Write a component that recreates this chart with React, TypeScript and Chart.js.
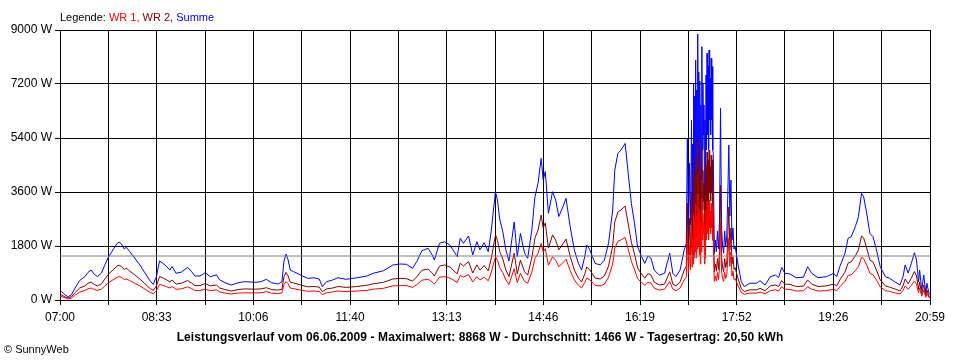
import React, { useEffect, useRef } from "react";
import { Chart, registerables } from "chart.js";

Chart.register(...registerables);

// minutes after 07:00
const minutes = [
  0, 3, 5, 8, 11, 14, 19, 24, 27, 30, 33, 36, 40, 43, 47, 52, 55, 57, 59, 62, 64, 67, 72, 77, 82, 87, 90, 93, 96, 99,
  103, 106, 108, 112, 117, 123, 127, 130, 135, 140, 145, 151, 154, 159, 165, 172, 178, 188, 194, 199, 204, 210, 214, 216, 218, 220, 222, 225, 232, 239,
  245, 250, 253, 257, 263, 268, 276, 286, 296, 302, 312, 321, 328, 334, 340, 344, 349, 355, 359, 361, 363, 366, 371, 376, 379, 383, 386, 389, 394, 398,
  402, 405, 409, 413, 416, 418, 420, 422, 424, 427, 430, 433, 438, 441, 444, 448, 451, 455, 458, 461, 464, 466, 468, 471, 475, 478, 481, 485, 488, 492,
  496, 500, 503, 506, 508, 511, 516, 521, 525, 529, 533, 535, 538, 541, 545, 548, 551, 554, 557, 561, 564, 567, 570, 573, 578, 583, 588, 591, 594, 598,
  602, 604, 605, 606, 607, 608,
  609, 609.5, 610, 610.5, 611, 611.5, 612, 612.5, 613, 613.5, 614, 614.5, 615, 615.5, 616, 616.5, 617, 617.5, 618, 618.5,
  619, 619.5, 620, 620.5, 621, 621.5, 622, 622.5, 623, 623.5, 624, 624.5, 625, 625.5, 626, 626.5, 627, 627.5, 628, 628.5,
  629, 629.5, 630, 631, 632,
  633, 634, 635, 636, 637, 638, 639, 640, 641, 642, 643, 644, 645, 646, 647, 648, 649, 650, 651, 654, 657, 660, 665, 672, 675, 680, 685, 690, 693, 696,
  699, 704, 710, 717, 721, 725, 731, 739, 746, 749, 752, 757, 760, 763, 767, 770, 773, 775, 778, 781, 784, 787, 791, 796, 800, 805, 810, 813, 815, 818,
  821, 824, 826, 828, 829, 831, 833, 835, 836, 838, 839,
];

const summe = [
  330, 230, 167, 110, 170, 370, 650, 780, 920, 1000, 860, 780, 900, 1150, 1450, 1720, 1880, 1930, 1880, 1700, 1760, 1620, 1400, 1170, 900, 630, 520, 780, 1300, 1230,
  1110, 1000, 1120, 890, 930, 1090, 940, 800, 800, 910, 777, 840, 670, 580, 500, 577, 610, 590, 610, 690, 577, 530, 600, 1300, 1530, 1340, 1000, 950, 830, 720,
  740, 700, 443, 610, 667, 743, 690, 740, 800, 890, 977, 1167, 1200, 1190, 1057, 1277, 1643, 1723, 1500, 1333, 1557, 1890, 1943, 1833, 1667, 1443, 2057, 1890, 2133, 1500,
  1943, 1670, 1910, 1610, 2333, 3000, 3610, 3300, 2700, 2280, 1670, 1300, 2600, 1450, 2220, 1560, 1390, 2330, 3440, 3890, 4720, 4000, 4280, 2890, 3610, 3330, 2780, 3110, 3390, 2440,
  1670, 1220, 1000, 1440, 1830, 1670, 1220, 1170, 1330, 1890, 3000, 4330, 4890, 5000, 5220, 4220, 3220, 2560, 1780, 1440, 1220, 1470, 1390, 1000, 830, 890, 1560, 890, 780, 1000,
  1670, 1890, 5390, 2200, 4557, 2500,
  6000, 2800, 5200, 3000, 7200, 3500, 6800, 4000, 8000, 3500, 7000, 4200, 8868, 4500, 7600, 3800, 7300, 3000, 6500, 4000,
  8443, 5000, 7200, 5500, 6500, 3000, 6000, 3500, 7500, 5000, 8223, 5500, 7800, 5000, 8333, 6000, 7400, 5500, 8057, 6000,
  7777, 5000, 4890, 1557, 2000,
  1600, 2300, 1700, 2667, 6390, 2400, 1800, 1560, 2300, 1800, 2100, 3500, 5167, 2800, 4000, 2000, 2400, 1700, 1800, 1167, 610, 443, 557, 560, 643, 500, 777, 833, 743, 1090,
  890, 867, 743, 760, 1110, 890, 743, 777, 890, 777, 1110, 1557, 2057, 2110, 2443, 2777, 3557, 3443, 2890, 2223, 2110, 1723, 1110, 777, 723, 610, 500, 777, 1167, 900,
  1223, 1577, 1333, 600, 1000, 333, 833, 223, 557, 223, 200,
];

const wr2 = [
  200, 140, 100, 70, 110, 230, 400, 470, 560, 600, 520, 470, 540, 690, 870, 1030, 1130, 1160, 1120, 1020, 1060, 970, 840, 700, 540, 380, 320, 470, 780, 740,
  670, 600, 670, 530, 560, 650, 560, 480, 480, 550, 470, 500, 400, 350, 300, 350, 370, 360, 370, 410, 350, 330, 360, 780, 920, 800, 600, 570, 500, 440,
  450, 430, 280, 370, 400, 450, 420, 450, 490, 540, 590, 700, 720, 710, 630, 770, 990, 1030, 900, 800, 930, 1130, 1170, 1100, 1000, 870, 1230, 1130, 1280, 900,
  1170, 1000, 1150, 970, 1400, 1800, 2170, 1980, 1620, 1370, 1000, 780, 1560, 870, 1330, 940, 830, 1400, 2060, 2330, 2830, 2400, 2570, 1730, 2170, 2000, 1670, 1870, 2030, 1460,
  1000, 730, 600, 860, 1100, 1000, 730, 700, 800, 1130, 1800, 2600, 2930, 3000, 3130, 2530, 1930, 1540, 1070, 860, 730, 880, 830, 600, 500, 530, 940, 530, 470, 600,
  1000, 1130, 3230, 1320, 2730, 1500,
  3600, 1700, 3100, 1800, 4320, 2100, 4080, 2400, 4800, 2100, 4200, 2500, 5340, 2700, 4560, 2300, 4380, 1800, 3900, 2400,
  5070, 3000, 4320, 3300, 3900, 1800, 3600, 2100, 4500, 3000, 4930, 3300, 4680, 3000, 5000, 3600, 4440, 3300, 4830, 3600,
  4670, 3000, 2930, 930, 1200,
  960, 1380, 1020, 1600, 3830, 1440, 1080, 940, 1380, 1080, 1260, 2100, 3100, 1680, 2400, 1200, 1440, 1020, 1080, 700, 380, 280, 340, 340, 390, 310, 470, 500, 450, 650,
  530, 520, 450, 460, 670, 530, 450, 470, 530, 470, 670, 930, 1230, 1270, 1470, 1670, 2130, 2070, 1730, 1330, 1270, 1030, 670, 470, 430, 370, 300, 470, 700, 540,
  730, 950, 800, 360, 600, 200, 500, 130, 330, 130, 120,
];

const wr1 = [
  130, 95, 70, 40, 60, 150, 260, 320, 370, 400, 350, 320, 360, 460, 580, 690, 750, 780, 760, 680, 700, 650, 560, 470, 360, 250, 210, 310, 520, 490,
  440, 400, 450, 360, 370, 440, 380, 320, 320, 360, 310, 340, 270, 230, 200, 230, 240, 235, 240, 280, 230, 210, 240, 520, 610, 540, 400, 380, 330, 290,
  300, 280, 180, 240, 270, 300, 280, 300, 320, 360, 390, 470, 480, 480, 420, 510, 660, 690, 600, 530, 620, 760, 780, 730, 670, 580, 820, 760, 850, 600,
  780, 670, 760, 640, 930, 1200, 1440, 1320, 1080, 910, 670, 520, 1040, 580, 890, 620, 560, 930, 1380, 1560, 1890, 1600, 1710, 1160, 1440, 1330, 1110, 1240, 1360, 980,
  670, 490, 400, 580, 730, 670, 490, 470, 530, 760, 1200, 1730, 1960, 2000, 2090, 1690, 1290, 1020, 710, 580, 490, 590, 560, 400, 330, 360, 620, 360, 310, 400,
  670, 760, 2160, 880, 1820, 1000,
  2400, 1100, 2100, 1200, 2880, 1400, 2720, 1600, 3200, 1400, 2800, 1700, 3528, 1800, 3040, 1500, 2920, 1200, 2600, 1600,
  3370, 2000, 2880, 2200, 2600, 1200, 2400, 1400, 3000, 2000, 3290, 2200, 3120, 2000, 3330, 2400, 2960, 2200, 3220, 2400,
  3110, 2000, 1960, 620, 800,
  640, 920, 680, 1070, 2560, 960, 720, 620, 920, 720, 840, 1400, 2070, 1120, 1600, 800, 960, 680, 720, 470, 250, 190, 230, 230, 260, 210, 310, 340, 300, 440,
  360, 350, 300, 310, 440, 360, 300, 310, 360, 310, 440, 620, 820, 840, 980, 1110, 1420, 1380, 1160, 890, 840, 690, 440, 310, 290, 240, 200, 310, 470, 360,
  490, 630, 530, 240, 400, 130, 330, 90, 220, 90, 80,
];

const average = 1466;
const totalMinutes = 839;
const tickLabels = ["07:00", "08:33", "10:06", "11:40", "13:13", "14:46", "16:19", "17:52", "19:26", "20:59"];
const yMax = 9000;
const yStep = 1800;

const FONT = "'Liberation Sans', Arial, sans-serif";

export default function App() {
  const ref = useRef<HTMLCanvasElement | null>(null);

  useEffect(() => {
    if (!ref.current) return;
    const pts = (arr: number[]) => minutes.map((m, i) => ({ x: m, y: arr[i] }));
    const chart = new Chart(ref.current, {
      type: "line",
      data: {
        datasets: [
          {
            label: "Durchschnitt",
            data: [
              { x: 0, y: average },
              { x: totalMinutes, y: average },
            ],
            borderColor: "#808080",
            borderWidth: 1,
            pointRadius: 0,
            order: 0,
          },
          {
            label: "WR 1",
            data: pts(wr1),
            borderColor: "#ff0000",
            borderWidth: 1,
            pointRadius: 0,
            order: 1,
          },
          {
            label: "WR 2",
            data: pts(wr2),
            borderColor: "#800000",
            borderWidth: 1,
            pointRadius: 0,
            order: 2,
          },
          {
            label: "Summe",
            data: pts(summe),
            borderColor: "#0000ff",
            borderWidth: 1,
            pointRadius: 0,
            order: 3,
          },
        ],
      },
      options: {
        animation: false,
        responsive: false,
        maintainAspectRatio: false,
        layout: { padding: { left: 0, top: 30, right: 30, bottom: 0 } },
        plugins: { legend: { display: false }, tooltip: { enabled: false }, title: { display: false } },
        elements: { line: { tension: 0 } },
        scales: {
          x: {
            type: "linear",
            min: 0,
            max: totalMinutes,
            afterFit: (s: any) => {
              s.height = 60;
            },
            afterBuildTicks: (s: any) => {
              const n = (tickLabels.length - 1) * 2;
              s.ticks = Array.from({ length: n + 1 }, (_, i) => ({ value: (i * totalMinutes) / n }));
            },
            ticks: {
              autoSkip: false,
              maxRotation: 0,
              color: "#000",
              padding: 5,
              font: { family: FONT, size: 12 },
              callback: (_v: any, i: number) => (i % 2 === 0 ? tickLabels[i / 2] : ""),
            },
            grid: { color: "#000", lineWidth: 1, tickLength: 5, drawTicks: true },
            border: { display: true, color: "#000" },
          },
          y: {
            min: 0,
            max: yMax,
            afterFit: (s: any) => {
              s.width = 60;
            },
            ticks: {
              stepSize: yStep,
              color: "#000",
              padding: 3,
              font: { family: FONT, size: 12 },
              callback: (v: any) => `${v} W`,
            },
            grid: { color: "#000", lineWidth: 1, tickLength: 5, drawTicks: true },
            border: { display: true, color: "#000" },
          },
        },
      },
    });
    return () => chart.destroy();
  }, []);

  return (
    <div style={{ position: "absolute", left: 0, top: 0, width: 960, height: 360, background: "#fff", fontFamily: FONT }}>
      <canvas ref={ref} width={960} height={360} style={{ position: "absolute", left: 0, top: 0, width: 960, height: 360 }} />
      <div style={{ position: "absolute", left: 60, top: 10, fontSize: 11, lineHeight: "14px", whiteSpace: "nowrap", color: "#000" }}>
        Legende: <span style={{ color: "#ff0000" }}>WR 1,</span> <span style={{ color: "#800000" }}>WR 2,</span>{" "}
        <span style={{ color: "#0000ff" }}>Summe</span>
      </div>
      <div
        style={{
          position: "absolute",
          left: 0,
          width: 960,
          top: 330,
          textAlign: "center",
          fontSize: 12,
          fontWeight: "bold",
          letterSpacing: "0.1px",
          lineHeight: "14px",
          whiteSpace: "nowrap",
          color: "#000",
        }}
      >
        Leistungsverlauf vom 06.06.2009 - Maximalwert: 8868 W - Durchschnitt: 1466 W - Tagesertrag: 20,50 kWh
      </div>
      <div style={{ position: "absolute", left: 4, top: 342, fontSize: 11, lineHeight: "14px", whiteSpace: "nowrap", color: "#000" }}>
        © SunnyWeb
      </div>
    </div>
  );
}
